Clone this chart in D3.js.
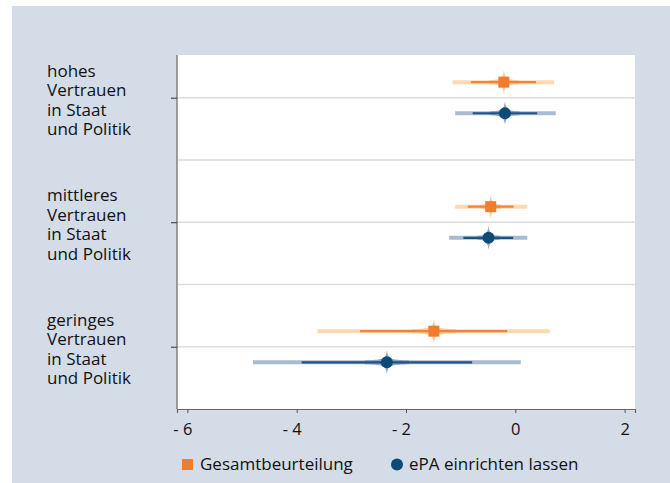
<!DOCTYPE html>
<html>
<head>
<meta charset="utf-8">
<script src="https://cdn.jsdelivr.net/npm/d3@7"></script>
<style>
  body { margin: 0; background: #fff; }
  svg { display: block; font-family: "Open Sans", sans-serif; }
</style>
</head>
<body>
<div id="chart"></div>
<script>
// Daten
const gruppen = [
  ["hohes", "Vertrauen", "in Staat", "und Politik"],
  ["mittleres", "Vertrauen", "in Staat", "und Politik"],
  ["geringes", "Vertrauen", "in Staat", "und Politik"]
];
const gruppenPos = [3, 2, 1];
const serien = ["Gesamtbeurteilung", "ePA einrichten lassen"];

// Gesamtbeurteilung
const gesamtSchaetzer = [-0.21, -0.45, -1.49];
const gesamtAussenLo = [-1.15, -1.10, -3.62];
const gesamtAussenHi = [0.71, 0.22, 0.63];
const gesamtInnenLo = [-0.81, -0.87, -2.84];
const gesamtInnenHi = [0.38, -0.03, -0.15];

// ePA einrichten lassen
const epaSchaetzer = [-0.19, -0.49, -2.35];
const epaAussenLo = [-1.10, -1.21, -4.80];
const epaAussenHi = [0.74, 0.22, 0.10];
const epaInnenLo = [-0.78, -0.95, -3.91];
const epaInnenHi = [0.40, -0.04, -0.79];

const xTicks = [-6, -4, -2, 0, 2];

const W = 670, H = 483;
const plot = { left: 177, top: 55, right: 635, bottom: 409 };
const schrift = 17;

const svg = d3.select("#chart").append("svg")
    .attr("width", W)
    .attr("height", H)

// Hintergrund
svg.append("rect")
    .attr("x", 12).attr("y", 6)
    .attr("width", W - 12).attr("height", H - 6)
    .attr("fill", "#d4dce8")

svg.append("rect")
    .attr("x", plot.left).attr("y", plot.top)
    .attr("width", plot.right - plot.left).attr("height", plot.bottom - plot.top)
    .attr("fill", "#fff")

// Skalen
let x = d3.scaleLinear()
    .domain([-6.19, 2.19])
    .range([plot.left, plot.right])

let y = d3.scaleLinear()
    .domain([0.5, 3.343])
    .range([plot.bottom, plot.top])

// Gitterlinien
const gitter = [1, 1.5, 2, 2.5, 3]
svg.append("g")
    .selectAll("line")
    .data(gitter)
    .enter()
    .append("line")
    .attr("x1", plot.left).attr("x2", plot.right)
    .attr("y1", d => y(d)).attr("y2", d => y(d))
    .attr("stroke", "#dcdcdc")
    .attr("stroke-width", 1.5)

// Achsen
const axisX = svg.append("g")
    .attr("transform", "translate(0," + plot.bottom + ")")
    .call(d3.axisBottom(x).tickValues(xTicks).tickSize(4).tickPadding(10)
        .tickFormat(d => d < 0 ? "- " + Math.abs(d) : d))
axisX.select(".domain").attr("stroke", "#666").attr("stroke-width", 1.2)
axisX.selectAll(".tick line").attr("stroke", "#555")
axisX.selectAll(".tick text")
    .attr("font-size", 16.5)
    .attr("font-family", "Open Sans")
    .attr("fill", "#111")
    .attr("dx", d => d < 0 ? -5 : 0)

const axisY = svg.append("g")
    .attr("transform", "translate(" + plot.left + ",0)")
    .call(d3.axisLeft(y).tickValues(gruppenPos).tickSize(6).tickFormat(""))
axisY.select(".domain").attr("stroke", "#666").attr("stroke-width", 1.2)
    .attr("d", "M0," + plot.top + "V" + plot.bottom)
axisY.selectAll(".tick line").attr("stroke", "#333")

// Beschriftung der Gruppen (eine Zeile je Textelement)
gruppen.forEach((zeilen, i) => {
    const yc = y(gruppenPos[i]) + 2
    zeilen.forEach((z, j) => {
        svg.append("text")
            .attr("x", 47)
            .attr("y", yc + (j - 1.5) * 19.5)
            .attr("font-size", schrift)
            .attr("fill", "#111")
            .attr("dominant-baseline", "central")
            .text(z)
    })
})

// Punkte mit Konfidenzintervallen
const serienDaten = [
    { name: serien[0], off: 0.125, est: gesamtSchaetzer, aLo: gesamtAussenLo, aHi: gesamtAussenHi,
      iLo: gesamtInnenLo, iHi: gesamtInnenHi,
      hell: "#fdd8b0", mittel: "#fbc186", dunkel: "#f0843a", marker: "#ef7d2d", form: "square" },
    { name: serien[1], off: -0.125, est: epaSchaetzer, aLo: epaAussenLo, aHi: epaAussenHi,
      iLo: epaInnenLo, iHi: epaInnenHi,
      hell: "#a9bad1", mittel: "#7f99bc", dunkel: "#1d5484", marker: "#0e4a77", form: "circle" }
]

// Form des "Funkelns" um den Schätzer (halbe Höhe in Abhängigkeit vom Abstand)
function funkeln(cx, cy, L) {
    const pts = []
    const n = 40
    const hh = d => 2 + 7.5 * Math.exp(-d / 1.3) + 2.2 * Math.pow(Math.max(0, 1 - d / L), 2)
    for (let k = -n; k <= n; k++) {
        const d = L * k / n
        pts.push([cx + d, cy - hh(Math.abs(d))])
    }
    for (let k = n; k >= -n; k--) {
        const d = L * k / n
        pts.push([cx + d, cy + hh(Math.abs(d))])
    }
    return d3.line()(pts) + "Z"
}

serienDaten.forEach(s => {
    const g = svg.append("g")
    gruppenPos.forEach((p, i) => {
        const cy = y(p + s.off)
        const cx = x(s.est[i])
        // äußeres Intervall
        g.append("line")
            .attr("x1", x(s.aLo[i])).attr("x2", x(s.aHi[i]))
            .attr("y1", cy).attr("y2", cy)
            .attr("stroke", s.hell)
            .attr("stroke-width", 4)
        const halb = (x(s.iHi[i]) - x(s.iLo[i])) / 2
        const L = Math.min(halb * 0.45, 22)
        g.append("path")
            .attr("d", funkeln(cx, cy, L))
            .attr("fill", s.mittel)
            .attr("opacity", 0.85)
        // inneres Intervall
        g.append("line")
            .attr("x1", x(s.iLo[i])).attr("x2", x(s.iHi[i]))
            .attr("y1", cy).attr("y2", cy)
            .attr("stroke", s.dunkel)
            .attr("stroke-width", 2.2)
        if (s.form === "square") {
            g.append("rect")
                .attr("x", cx - 5.5).attr("y", cy - 5.5)
                .attr("width", 11).attr("height", 11)
                .attr("fill", s.marker)
        } else {
            g.append("circle")
                .attr("cx", cx).attr("cy", cy)
                .attr("r", 6)
                .attr("fill", s.marker)
        }
    })
})

// Legende
const leg = svg.append("g")
leg.append("rect")
    .attr("x", 182).attr("y", 459)
    .attr("width", 11).attr("height", 11)
    .attr("fill", serienDaten[0].marker)
leg.append("text")
    .attr("x", 200).attr("y", 470)
    .attr("font-size", schrift)
    .attr("fill", "#111")
    .text(serien[0])
leg.append("circle")
    .attr("cx", 397).attr("cy", 464.5)
    .attr("r", 6)
    .attr("fill", serienDaten[1].marker)
leg.append("text")
    .attr("x", 409).attr("y", 470)
    .attr("font-size", schrift)
    .attr("fill", "#111")
    .text(serien[1])
</script>
</body>
</html>
